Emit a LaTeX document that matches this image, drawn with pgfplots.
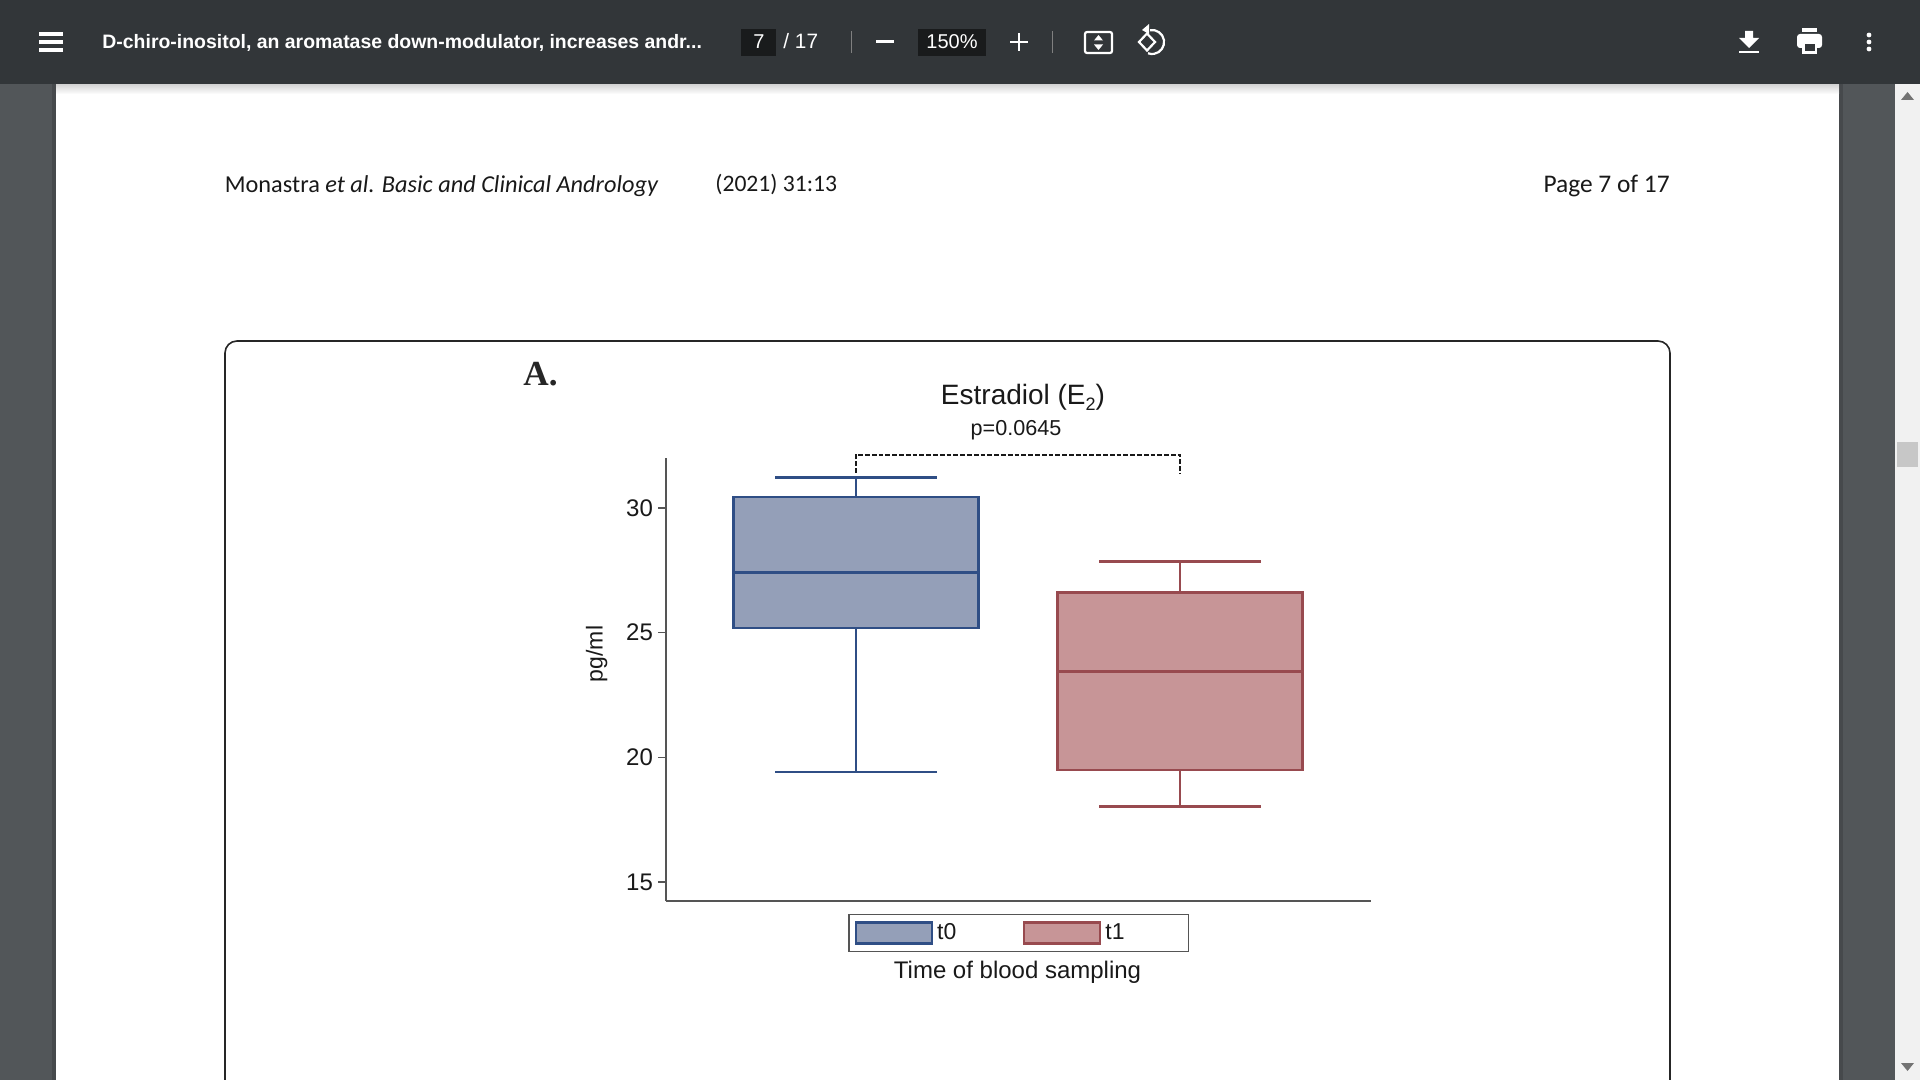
\documentclass[border=0pt]{standalone}
\usepackage{pgfplots}
\pgfplotsset{compat=1.18}
\usepgfplotslibrary{statistics}
\usepackage{fontspec}
\setmainfont{Liberation Sans}
\newfontfamily\hdr{Carlito}
\newfontfamily\ui{Liberation Sans}
\newfontfamily\capser{Liberation Serif}
\definecolor{bar}{HTML}{323639}
\definecolor{side}{HTML}{525659}
\definecolor{boxbg}{HTML}{191B1C}
\definecolor{sb}{HTML}{F1F1F1}
\definecolor{tline}{HTML}{2F4E85}
\definecolor{tfill}{HTML}{949FB8}
\definecolor{rline}{HTML}{984A4F}
\definecolor{rfill}{HTML}{C79597}
\definecolor{axl}{HTML}{555555}
\begin{document}
\begin{tikzpicture}[x=0.5pt,y=-0.5pt]
\path[use as bounding box] (0,0) rectangle (1920,1080);
% viewer
\fill[side] (0,0) rectangle (1920,1080);
\fill[white] (56,84) rectangle (1839,1080);
\fill[side!85!black] (52,84) rectangle (56,1080);
\fill[side!85!black] (1839,84) rectangle (1843,1080);
\fill[sb] (1895,84) rectangle (1920,1080);
\fill[white!78!black] (1897,442) rectangle (1918,467);
\fill[gray!90!black] (1901,100) -- (1914,100) -- (1907.5,92) -- cycle;
\fill[gray!90!black] (1901,1063) -- (1914,1063) -- (1907.5,1071) -- cycle;
\shade[top color=black!25,bottom color=white,opacity=.7] (56,84) rectangle (1839,94);
\fill[bar] (0,0) rectangle (1920,84);
% hamburger
\foreach \yy in {34,42,50} \fill[white] (39,\yy-1.6) rectangle (63,\yy+1.6);
\node[anchor=west,inner sep=0,text=white] at (102,43) {\ui\bfseries\fontsize{9.72}{12}\selectfont D-chiro-inositol, an aromatase down-modulator, increases andr...};
\fill[boxbg] (741,29) rectangle (776,56);
\node[text=white,inner sep=0] at (759,42) {\ui\fontsize{10}{12}\selectfont 7};
\node[text=white,inner sep=0,anchor=west] at (783,41) {\ui\fontsize{10.4}{12}\selectfont / 17};
\fill[gray] (850.5,31) rectangle (852,53);
\fill[white] (876,40.5) rectangle (894,43.5);
\fill[boxbg] (918,29) rectangle (986,56);
\node[text=white,inner sep=0] at (952,42) {\ui\fontsize{10}{12}\selectfont 150\%};
\fill[white] (1010,40.8) rectangle (1028,43.2);
\fill[white] (1017.8,33) rectangle (1020.2,51);
\fill[gray] (1051.5,31) rectangle (1053,53);
\draw[white,line width=1.1pt,rounded corners=1pt] (1085,32) rectangle (1112,53);
\fill[white] (1098.5,35) -- (1094,40.5) -- (1103,40.5) -- cycle;
\fill[white] (1098.5,50) -- (1094,44.5) -- (1103,44.5) -- cycle;
\draw[white,line width=1.1pt] (1147,33.5) -- (1155,42) -- (1147,50.5) -- (1139,42) -- cycle;
\draw[white,line width=1.1pt] (1150,30.2) arc[start angle=100,end angle=-110,radius=6pt];
\fill[white] (1149,24) -- (1149,34) -- (1142,30) -- cycle;
% download
\fill[white] (1745,31) -- (1753,31) -- (1753,38) -- (1759,38) -- (1749,48) -- (1739,38) -- (1745,38) -- cycle;
\fill[white] (1739,51) rectangle (1759,53.5);
% print
\fill[white,rounded corners=1.5pt] (1797,34) rectangle (1822,48);
\fill[white] (1802,28) rectangle (1817,32.5);
\fill[white] (1802,44) rectangle (1817,54);
\fill[bar] (1804.5,44) rectangle (1814.5,51.5);
% dots
\foreach \yy in {35,42,49} \fill[white] (1869,\yy) circle[radius=1.2pt];
% header
\node[anchor=west,inner sep=0,text=black!90] at (224.5,186) {\hdr\fontsize{12.15}{14}\selectfont Monastra \textit{et al. Basic and Clinical Andrology}};
\node[anchor=west,inner sep=0,text=black!90] at (715,185) {\hdr\fontsize{11.8}{14}\selectfont (2021) 31:13};
\node[anchor=east,inner sep=0,text=black!90] at (1670,186) {\hdr\fontsize{12.7}{14}\selectfont Page 7 of 17};
% frame
\draw[black!85,line width=0.8pt,rounded corners=6pt] (225,1100) -- (225,341) -- (1670,341) -- (1670,1100);
\node[inner sep=0,text=black!85] at (540.5,374) {\capser\bfseries\fontsize{17.6}{20}\selectfont A.};
% chart
\begin{axis}[
  at={(333pt,-450.5pt)}, anchor=south west, scale only axis,
  width=352.5pt, height=221.5pt,
  xmin=0.4136, xmax=2.5895, ymin=14.24, ymax=32,
  axis y line*=left, axis x line*=bottom,
  axis line style={-,axl,line width=0.85pt},
  xtick=\empty, ytick={15,20,25,30},
  tick style={axl,line width=0.7pt},
  major tick length=4pt,
  tick align=outside,
  tick label style={font=\fontsize{12}{14}\selectfont,text=black!90},
  yticklabel style={xshift=1pt},
  /pgf/number format/assume math mode=true,
  clip=false,
  title={Estradiol (E\raisebox{-0.45ex}{\fontsize{9}{9}\selectfont 2})},
  title style={at={(axis description cs:0.5064,1.1095)},anchor=center,yshift=0pt,font=\fontsize{14}{16}\selectfont,text=black!90,inner sep=0},
  xlabel={Time of blood sampling},
  every axis x label/.style={at={(axis description cs:0.4986,-0.1615)},anchor=center,font=\fontsize{12}{14}\selectfont,text=black!90,inner sep=0},
  ylabel={pg/ml},
  every axis y label/.style={at={(axis description cs:-0.0985,0.5576)},rotate=90,anchor=center,font=\fontsize{11.5}{14}\selectfont,text=black!90,inner sep=0},
  boxplot/draw direction=y,
  boxplot/box extend=0.755,
  boxplot/whisker extend=0.5,
  boxplot/every box/.style={line width=1.25pt},
  boxplot/every whisker/.style={line width=1.4pt},
  boxplot/every median/.style={line width=1.5pt},
  legend columns=2,
  legend cell align=left,
  legend style={at={(axis description cs:0.5003,-0.0722)},anchor=center,
    draw=axl,line width=0.85pt,
    font=\fontsize{11.5}{13}\selectfont,text=black!90,
    inner xsep=3pt,inner ysep=2.5pt,row sep=0pt,
    /tikz/every even column/.append style={column sep=0pt},
    nodes={inner xsep=2pt}},
]
\addplot+[solid,draw=tline,fill=tfill,mark=none,
  boxplot prepared={draw position=1,lower whisker=19.41,lower quartile=25.19,median=27.41,upper quartile=30.44,upper whisker=31.22},
  legend image code/.code={\draw[line width=1.2pt,draw=tline,fill=tfill] (0,-5.2pt) rectangle (38pt,5.2pt);}]
  coordinates {};
\addlegendentry{\makebox[40.9pt][l]{t0}}
\addplot+[solid,draw=rline,fill=rfill,mark=none,
  boxplot prepared={draw position=2,lower whisker=18.04,lower quartile=19.5,median=23.43,upper quartile=26.6,upper whisker=27.84},
  legend image code/.code={\draw[line width=1.2pt,draw=rline,fill=rfill] (0,-5.2pt) rectangle (38pt,5.2pt);}]
  coordinates {};
\addlegendentry{\makebox[36.6pt][l]{t1}}
\node[inner sep=0,font=\fontsize{10.8}{13}\selectfont,text=black!90] at (axis description cs:0.4965,1.062) {p=0.0645};
\draw[black!90,line width=1pt,dash pattern=on 2.4pt off 1pt] (axis cs:1,31.4) -- (axis cs:1,32.13) -- (axis cs:2,32.13) -- (axis cs:2,31.4);
\end{axis}
\end{tikzpicture}
\end{document}
